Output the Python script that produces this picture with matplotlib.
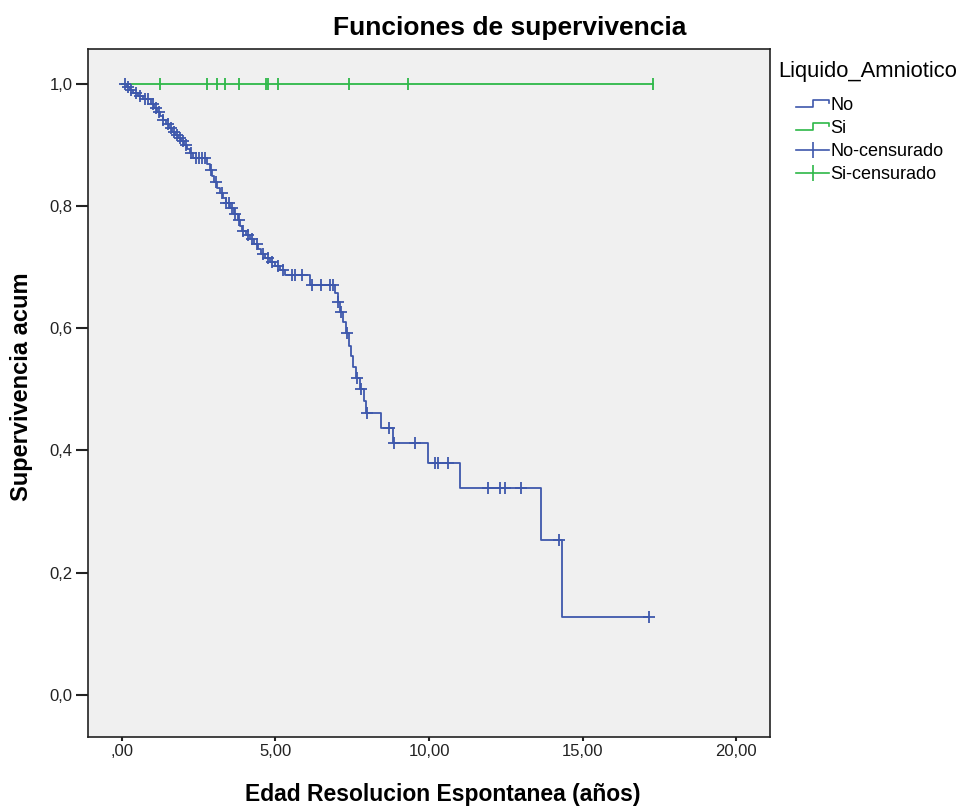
import numpy as np
import matplotlib.pyplot as plt
from matplotlib.lines import Line2D
from matplotlib.legend_handler import HandlerLine2D

plt.rcParams['font.family'] = ['Liberation Sans', 'DejaVu Sans']

# Kaplan-Meier step for Liquido_Amniotico = No (time after event, survival level)
no_time = [0.0, 0.16, 0.26, 0.36, 0.52, 0.68, 0.94, 1.04, 1.14, 1.24, 1.34, 1.43,
           1.53, 1.63, 1.73, 1.82, 1.92, 2.02, 2.12, 2.21, 2.31, 2.77, 2.87, 2.93,
           3.00, 3.09, 3.19, 3.29, 3.39, 3.52, 3.65, 3.78, 3.84, 3.91, 4.04, 4.17,
           4.30, 4.43, 4.53, 4.66, 4.82, 4.98, 5.15, 5.31, 6.12, 6.94, 7.04, 7.10,
           7.20, 7.30, 7.39, 7.46, 7.52, 7.62, 7.75, 7.88, 7.95, 8.43, 8.83, 9.98,
           11.01, 13.64, 14.34]
no_surv = [1.0, 0.995, 0.990, 0.985, 0.980, 0.975, 0.967, 0.961, 0.954, 0.948, 0.941, 0.935,
           0.928, 0.921, 0.917, 0.912, 0.907, 0.900, 0.894, 0.887, 0.879, 0.869, 0.859, 0.849,
           0.840, 0.830, 0.822, 0.813, 0.805, 0.797, 0.787, 0.777, 0.768, 0.759, 0.753, 0.746,
           0.738, 0.730, 0.722, 0.715, 0.709, 0.702, 0.696, 0.687, 0.671, 0.658, 0.643, 0.627,
           0.610, 0.592, 0.571, 0.555, 0.537, 0.519, 0.501, 0.481, 0.462, 0.437, 0.412, 0.380,
           0.339, 0.254, 0.128]
no_cens = [0.1, 0.2, 0.3, 0.45, 0.6, 0.75, 0.85, 1.0, 1.1, 1.2, 1.35, 1.5, 1.6, 1.7,
           1.8, 1.9, 2.0, 2.1, 2.25, 2.4, 2.5, 2.6, 2.7, 2.9, 3.05, 3.25, 3.4, 3.5,
           3.6, 3.7, 3.8, 3.95, 4.1, 4.25, 4.4, 4.6, 4.75, 4.9, 5.1, 5.26, 5.53, 5.64,
           5.85, 6.2, 6.5, 6.77, 6.88, 7.05, 7.12, 7.33, 7.65, 7.78, 7.98, 8.70, 8.87,
           9.54, 10.2, 10.3, 10.61, 11.93, 12.31, 12.48, 13.0, 14.23, 17.16]

# Liquido_Amniotico = Si: no events, only censored cases
si_time = [0.0, 17.28]
si_surv = [1.0, 1.0]
si_cens = [1.24, 2.77, 3.11, 3.35, 3.81, 4.68, 4.77, 5.07, 7.41, 9.33, 17.28]

x_ticks = [0, 5, 10, 15, 20]
x_labels = [',00', '5,00', '10,00', '15,00', '20,00']
y_ticks = [0.0, 0.2, 0.4, 0.6, 0.8, 1.0]
y_labels = ['0,0', '0,2', '0,4', '0,6', '0,8', '1,0']

BLUE = '#3e58ac'
GREEN = '#2eb848'


def surv_at(times, levels, t):
    idx = np.searchsorted(times, t, side='right') - 1
    return np.asarray(levels)[idx]


class StepHandler(HandlerLine2D):
    # little step icon like the SPSS legend
    def create_artists(self, legend, orig, xd, yd, w, h, fs, trans):
        xs = [xd, xd + w * 0.5, xd + w * 0.5, xd + w, xd + w]
        ys = [h * 0.2 - yd, h * 0.2 - yd, h * 0.8 - yd, h * 0.8 - yd, h * 0.55 - yd]
        ln = Line2D(xs, ys, color=orig.get_color(), lw=orig.get_linewidth())
        ln.set_transform(trans)
        return [ln]


fig = plt.figure(figsize=(9.62, 8.06), dpi=100)
ax = fig.add_axes([0.0915, 0.0856, 0.7089, 0.8536])
ax.set_facecolor('#f0f0f0')

no_t_full = no_time + [17.16]
no_s_full = no_surv + [no_surv[-1]]
ax.step(no_t_full, no_s_full, where='post', color=BLUE, lw=1.3)
ax.step(si_time, si_surv, where='post', color=GREEN, lw=1.3)

no_cy = surv_at(no_time, no_surv, no_cens)
si_cy = surv_at(si_time, si_surv, si_cens)
ax.plot(no_cens, no_cy, ls='none', marker='+', ms=9, mew=1.3, color=BLUE)
ax.plot(si_cens, si_cy, ls='none', marker='|', ms=9, mew=1.3, color=GREEN)

ax.set_xlim(-1.1, 21.1)
ax.set_ylim(-0.069, 1.057)
ax.set_xticks(x_ticks)
ax.set_xticklabels(x_labels)
ax.set_yticks(y_ticks)
ax.set_yticklabels(y_labels)
ax.tick_params(labelsize=12, width=1.5, colors='#222222', pad=2)
ax.tick_params(axis='x', length=3)
ax.tick_params(axis='y', length=9)
for s in ax.spines.values():
    s.set_color('#222222')
    s.set_linewidth(1.2)

ax.set_xlabel('Edad Resolucion Espontanea (años)', fontsize=16.5, fontweight='bold', va='center')
ax.xaxis.set_label_coords(0.52, -0.084)
ax.set_ylabel('Supervivencia acum', fontsize=17, fontweight='bold', va='center')
ax.yaxis.set_label_coords(-0.097, 0.509)
fig.text(0.53, 0.965, 'Funciones de supervivencia', ha='center', va='center',
         fontsize=19, fontweight='bold')

# legend title drawn apart so the gap to the entries can match
fig.text(778 / 962, 1 - 72 / 806, 'Liquido_Amniotico', ha='left', va='center', fontsize=15.8)
h_no = Line2D([], [], color=BLUE, lw=1.2)
h_si = Line2D([], [], color=GREEN, lw=1.2)
h_nc = Line2D([], [], color=BLUE, lw=1.2, marker='|', ms=11, mew=1.2)
h_sc = Line2D([], [], color=GREEN, lw=1.2, marker='|', ms=11, mew=1.2)
leg = fig.legend([h_no, h_si, h_nc, h_sc], ['No', 'Si', 'No-censurado', 'Si-censurado'],
                 loc='upper left', bbox_to_anchor=(0.8146, 0.8953), frameon=False,
                 fontsize=13, handlelength=1.8, handletextpad=0.1,
                 labelspacing=0.33, borderpad=0.2,
                 handler_map={h_no: StepHandler(), h_si: StepHandler()})

fig.savefig('out.png', dpi=100)
